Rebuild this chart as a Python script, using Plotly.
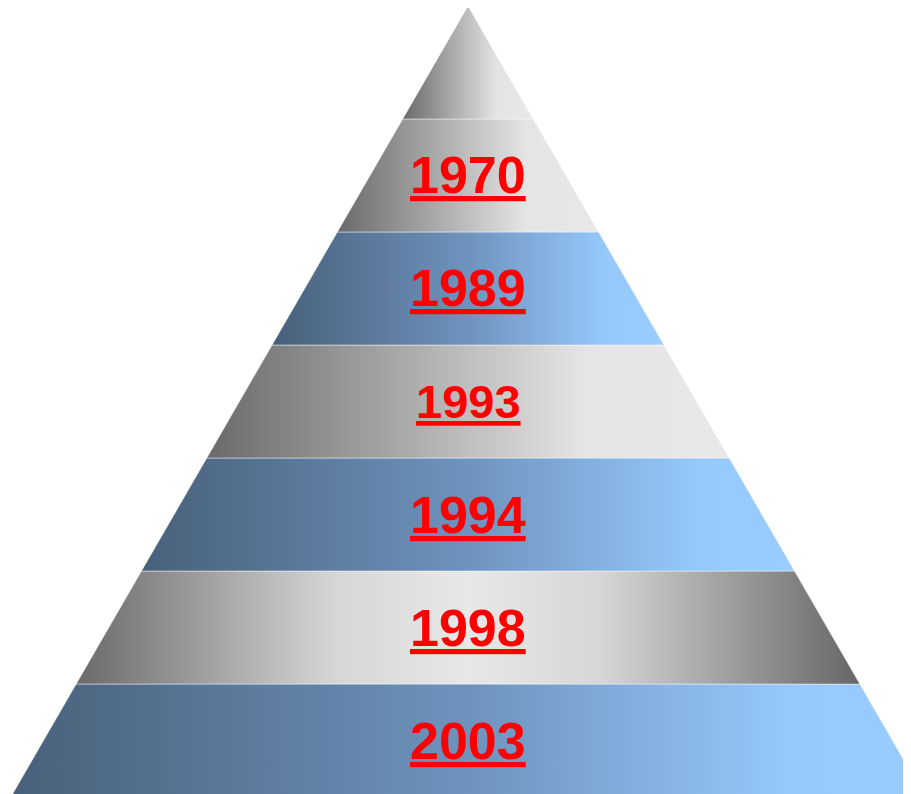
import plotly.graph_objects as go

# Pyramid levels, bottom to top
labels = ["2003", "1998", "1994", "1993", "1989", "1970", ""]
fills = ["blue", "gray_sym", "blue", "gray", "blue", "gray", "gray"]
label_sizes = [52, 52, 52, 47, 52, 52, 52]

n_levels = len(labels)
slope = 0.5  # half-width lost per level

scales = {
    "blue": [[0, "#48607a"], [0.5, "#6e93bd"], [0.85, "#96c8fb"], [1, "#99ccff"]],
    "gray": [[0, "#6a6a6a"], [0.72, "#e4e4e4"], [1, "#e8e8e8"]],
    "gray_sym": [[0, "#6a6a6a"], [0.33, "#d6d6d6"], [0.5, "#e8e8e8"],
                 [0.67, "#d6d6d6"], [1, "#666666"]],
}

def half_width(y):
    return (n_levels - y) * slope

fig = go.Figure()
for i, (lab, f) in enumerate(zip(labels, fills)):
    y0, y1 = i, i + 1
    h0, h1 = half_width(y0), half_width(y1)
    xs = [-h0, h0, h1, -h1, -h0]
    ys = [y0, y0, y1, y1, y0]
    fig.add_trace(go.Scatter(
        x=xs, y=ys, mode="lines", fill="toself",
        fillgradient=dict(type="horizontal", colorscale=scales[f]),
        line=dict(width=1, color="rgba(255,255,255,0.45)"),
        hoverinfo="skip", showlegend=False,
    ))
    if lab:
        fig.add_annotation(
            x=0, y=i + 0.5, text=f"<u><b>{lab}</b></u>", showarrow=False,
            font=dict(family="Arial, Liberation Sans, sans-serif",
                      size=label_sizes[i], color="#ff0000"),
            xanchor="center", yanchor="middle",
        )

fig.update_layout(
    width=911, height=794,
    margin=dict(l=0, r=0, t=0, b=0),
    paper_bgcolor="white", plot_bgcolor="white",
    xaxis=dict(range=[-3.522, 3.453], visible=False, fixedrange=True),
    yaxis=dict(range=[-0.044, 6.982], visible=False, fixedrange=True),
    showlegend=False,
)

fig.write_html("out.html")
